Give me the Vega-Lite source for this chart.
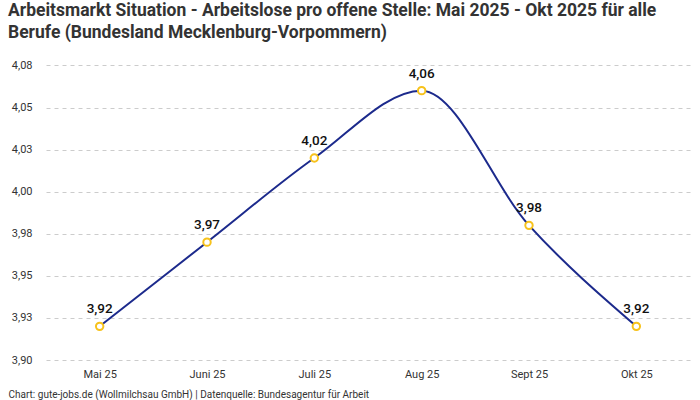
{
  "$schema": "https://vega.github.io/schema/vega-lite/v6.json",
  "width": 700,
  "height": 400,
  "autosize": {"type": "fit", "contains": "padding"},
  "padding": {"left": 8, "right": 10, "top": 1, "bottom": 1},
  "background": "white",
  "title": {
    "text": ["Arbeitsmarkt Situation - Arbeitslose pro offene Stelle: Mai 2025 - Okt 2025 für alle", "Berufe (Bundesland Mecklenburg-Vorpommern)"],
    "anchor": "start",
    "frame": "bounds",
    "font": "Roboto",
    "fontSize": 17.5,
    "fontWeight": "bold",
    "lineHeight": 22,
    "color": "#333333",
    "offset": 16
  },
  "data": {
    "values": [
      {"monat": "Mai 25", "wert": 3.92},
      {"monat": "Juni 25", "wert": 3.97},
      {"monat": "Juli 25", "wert": 4.02},
      {"monat": "Aug 25", "wert": 4.06},
      {"monat": "Sept 25", "wert": 3.98},
      {"monat": "Okt 25", "wert": 3.92}
    ]
  },
  "transform": [
    {"calculate": "replace(format(datum.wert, '.2f'), '.', ',')", "as": "label"}
  ],
  "encoding": {
    "x": {
      "field": "monat",
      "type": "ordinal",
      "sort": null,
      "scale": {"paddingInner": 0, "paddingOuter": 0.5},
      "axis": {
        "labelAngle": 0,
        "domain": false,
        "ticks": false,
        "labelPadding": 8,
        "labelFont": "Roboto",
        "labelFontSize": 11,
        "labelColor": "#333333",
        "title": "Chart: gute-jobs.de (Wollmilchsau GmbH) | Datenquelle: Bundesagentur für Arbeit",
        "titleFont": "Roboto",
        "titleFontSize": 10,
        "titleFontWeight": "normal",
        "titleColor": "#333333",
        "titleAnchor": "start",
        "titleAlign": "left",
        "titleX": -38,
        "titleY": 29
      }
    },
    "y": {
      "field": "wert",
      "type": "quantitative",
      "scale": {"domain": [3.9, 4.08], "nice": false, "zero": false},
      "axis": {
        "title": null,
        "values": [3.9, 3.925, 3.95, 3.975, 4.0, 4.025, 4.05, 4.075],
        "labelExpr": "replace(format(datum.value + 0.0001, '.2f'), '.', ',')",
        "domain": false,
        "ticks": false,
        "labelPadding": 14,
        "labelFont": "Roboto",
        "labelFontSize": 11,
        "labelColor": "#333333",
        "grid": true,
        "gridDash": [4, 4],
        "gridColor": "#cccccc"
      }
    }
  },
  "layer": [
    {
      "mark": {"type": "line", "interpolate": "monotone", "color": "#1c2a8c", "strokeWidth": 2}
    },
    {
      "mark": {"type": "point", "shape": "circle", "filled": true, "fill": "white", "stroke": "#f7c21b", "strokeWidth": 2, "size": 55, "opacity": 1}
    },
    {
      "mark": {"type": "text", "dy": -17, "font": "Roboto", "fontSize": 13.5, "fontWeight": 500, "color": "#111111"},
      "encoding": {"text": {"field": "label"}}
    }
  ],
  "config": {"view": {"stroke": null}}
}
